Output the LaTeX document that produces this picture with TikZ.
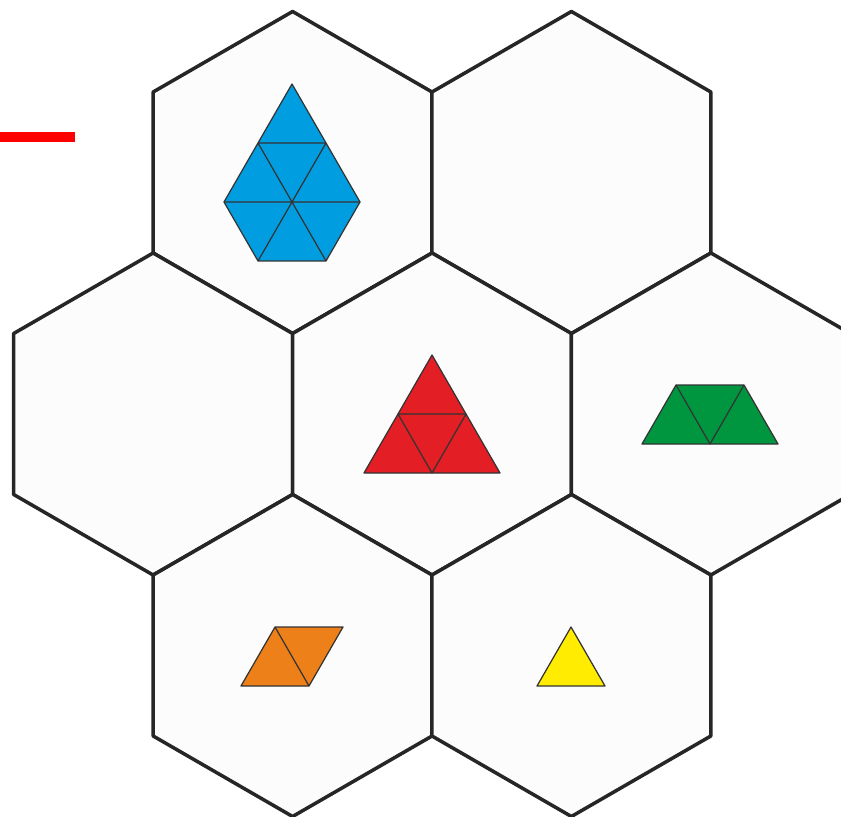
\documentclass[tikz,border=0pt]{standalone}
\usepackage{tikz}
\definecolor{tileblue}{RGB}{0,158,224}
\definecolor{tilered}{RGB}{227,30,36}
\definecolor{tilegreen}{RGB}{0,150,64}
\definecolor{tileorange}{RGB}{238,128,26}
\definecolor{tileyellow}{RGB}{255,236,0}

\begin{document}
\begin{tikzpicture}[x=0.02cm, y=-0.02cm,
  cell/.style={draw=black!85, line width=2pt, fill=black!1, line join=round},
  piece/.style={draw=black!80, line width=0.7pt, line join=round}]
  \useasboundingbox (0,0) rectangle (841,817);
  \clip (0,0) rectangle (841,817);
  \foreach \cx/\cy in {292.6/172.5, 571.4/172.5, 153.1/414, 432/414, 710.9/414, 292.6/655.5, 571.4/655.5}
    \draw[cell] (\cx,\cy) +(30:161) -- +(90:161) -- +(150:161) -- +(210:161) -- +(270:161) -- +(330:161) -- cycle;
  \draw[red, line width=6.2pt] (0,137) -- (75,137);
  \filldraw[piece, fill=tileblue] (224,202) -- (258,143) -- (292,84) -- (326,143) -- (360,202) -- (326,261) -- (258,261) -- cycle;
  \draw[piece] (258,143) -- (326,143) (224,202) -- (360,202) (258,143) -- (326,261) (326,143) -- (258,261);
  \filldraw[piece, fill=tilered] (432,355) -- (500,473) -- (364,473) -- cycle;
  \draw[piece] (398,414) -- (466,414) -- (432,473) -- cycle;
  \filldraw[piece, fill=tilegreen] (676,385) -- (744,385) -- (778,444) -- (642,444) -- cycle;
  \draw[piece] (676,385) -- (710,444) -- (744,385);
  \filldraw[piece, fill=tileorange] (241,686) -- (275,627) -- (343,627) -- (309,686) -- cycle;
  \draw[piece] (275,627) -- (309,686);
  \filldraw[piece, fill=tileyellow] (537,686) -- (571,627) -- (605,686) -- cycle;
\end{tikzpicture}
\end{document}
